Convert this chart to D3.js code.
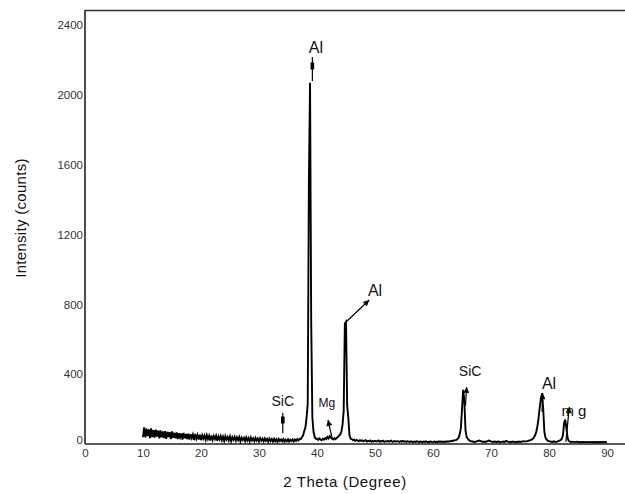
<!DOCTYPE html>
<html>
<head>
<meta charset="utf-8">
<script src="https://cdn.jsdelivr.net/npm/d3@7"></script>
<style>
  html, body { margin: 0; padding: 0; background: #fff; }
  svg { display: block; font-family: "Liberation Sans", Arial, sans-serif; }
</style>
</head>
<body>
<svg id="chart" width="625" height="494"></svg>
<script>
// ---- data ----
const scanStart = 10;      // degrees 2θ
const scanStep = 0.2;      // degrees 2θ
const counts = [
  40,96,38,88,45,84,34,90,40,80,
  36,82,42,76,32,78,38,72,34,74,
  30,70,40,68,28,72,36,64,32,66,
  28,62,38,60,26,63,33,57,28,59,
  25,56,34,54,23,57,30,52,26,53,
  22,50,31,48,24,51,28,47,20,49,
  24,45,28,47,19,43,26,46,22,42,
  18,44,25,40,21,43,17,39,24,41,
  19,38,22,40,16,36,23,35,17,38,
  20,34,15,37,21,32,16,35,19,31,
  14,33,20,30,15,32,18,29,13,31,
  17,28,14,30,16,27,12,29,17,26,
  15,28,13,25,16,27,14,24,17,26,
  15,25,18,28,20,30,28,38,50,75,
  95,150,230,1500,2070,690,150,70,40,30,
  30,24,32,26,22,30,25,34,28,40,
  32,45,36,30,26,33,28,35,40,48,
  55,70,110,190,690,700,220,150,50,30,
  28,22,25,18,24,20,16,22,18,21,
  15,19,22,14,18,16,20,13,17,15,
  18,14,16,20,13,17,15,19,12,16,
  14,18,13,16,19,12,15,17,13,16,
  15,12,17,14,18,13,15,12,16,14,
  12,15,13,11,14,12,15,13,11,14,
  13,11,14,12,15,11,13,12,14,12,
  11,14,12,13,11,15,12,14,13,12,
  14,12,15,13,16,14,18,17,20,22,
  22,28,35,55,90,200,310,250,80,40,
  30,22,18,15,14,13,12,14,16,18,
  20,17,14,13,12,14,13,16,20,18,
  15,13,12,14,13,12,14,13,11,12,
  13,14,12,18,15,12,11,13,12,14,
  12,11,13,12,14,12,13,14,16,15,
  15,16,18,20,22,25,30,38,50,70,
  100,150,210,260,290,200,70,35,25,18,
  16,14,13,12,15,13,12,14,16,20,
  22,30,50,120,140,90,35,18,14,12,
  13,12,11,12,13,11,12,10,12,11,
  12,10,11,12,10,11,12,10,11,10,
  11,10,12,10,11,10,11,10,12,10,
  10
];
const xTicks = [0, 10, 20, 30, 40, 50, 60, 70, 80, 90];
const yTicks = [0, 400, 800, 1200, 1600, 2000, 2400];
const xTitle = "2 Theta (Degree)";
const yTitle = "Intensity (counts)";

// phase labels (text, 2θ, counts)
const labelText  = ["Al", "Al", "SiC", "Mg", "SiC", "Al", "m g"];
const labelTheta = [39.8, 50.0, 34.1, 41.7, 66.4, 80.0, 84.3];
const labelCount = [2275, 882, 246, 235, 418, 350, 189];
const labelSize  = [16, 16, 14, 12, 14, 16, 15];

// pointer arrows (from -> to, in 2θ / counts), head type
const arrowFrom  = [[39.2, 2080], [45.0, 699], [34.1, 63], [42.6, 34], [65.6, 220], [78.8, 184], [82.9, 12]];
const arrowTo    = [[39.2, 2218], [49.0, 825], [34.1, 178], [41.9, 138], [65.8, 327], [78.9, 292], [83.5, 212]];
const arrowHead  = ["box", "tri", "box", "tri", "tri", "tri", "tri"];

// ---- drawing ----
const svg = d3.select("#chart");
const x = d3.scaleLinear().domain([0, 93.1]).range([85, 625]);
const y = d3.scaleLinear().domain([0, 2487]).range([444, 10]);

const scan = counts.map((c, i) => [scanStart + i * scanStep, c]);

svg.append("defs").append("marker")
  .attr("id", "tri")
  .attr("viewBox", "0 0 10 10")
  .attr("refX", 10).attr("refY", 5)
  .attr("markerWidth", 9).attr("markerHeight", 6)
  .attr("markerUnits", "userSpaceOnUse")
  .attr("orient", "auto")
  .append("path").attr("d", "M0,0 L10,5 L0,10 Z").attr("fill", "#000");

// x axis labels
const xa = svg.append("g").attr("transform", `translate(0,444)`)
  .call(d3.axisBottom(x).tickValues(xTicks).tickSize(0).tickPadding(5).tickFormat(d3.format("d")));
xa.select(".domain").remove();
xa.selectAll("text").attr("font-size", 11.5).attr("fill", "#333")
  .attr("font-family", "Liberation Sans, Arial, sans-serif");

const ya = svg.append("g").attr("transform", `translate(85,0)`)
  .call(d3.axisLeft(y).tickValues(yTicks).tickSize(0).tickPadding(2).tickFormat(d3.format("d")));
ya.select(".domain").remove();
ya.selectAll("text").attr("font-size", 11.5).attr("fill", "#333")
  .attr("font-family", "Liberation Sans, Arial, sans-serif");
ya.selectAll(".tick").filter(d => d === 0).select("text").attr("dy", "-0.05em");

// frame lines
svg.append("line").attr("x1", x(0)).attr("x2", 625).attr("y1", y(2487) + 0.5).attr("y2", y(2487) + 0.5)
  .attr("stroke", "#333").attr("stroke-width", 1.6);
svg.append("line").attr("x1", x(0)).attr("x2", x(0)).attr("y1", y(2487)).attr("y2", y(0))
  .attr("stroke", "#222").attr("stroke-width", 1.6);
svg.append("line").attr("x1", x(0)).attr("x2", 625).attr("y1", y(0)).attr("y2", y(0))
  .attr("stroke", "#222").attr("stroke-width", 1.6);

// scan line
svg.append("path")
  .datum(scan)
  .attr("fill", "none")
  .attr("stroke", "#000")
  .attr("stroke-width", 1.9)
  .attr("stroke-linejoin", "miter")
  .attr("d", d3.line().x(d => x(d[0])).y(d => y(d[1])));

// arrows
arrowFrom.forEach((f, i) => {
  const t = arrowTo[i];
  svg.append("line")
    .attr("x1", x(f[0])).attr("y1", y(f[1]))
    .attr("x2", x(t[0])).attr("y2", y(t[1]))
    .attr("stroke", "#000").attr("stroke-width", 1.2)
    .attr("marker-end", arrowHead[i] === "tri" ? "url(#tri)" : null);
  if (arrowHead[i] === "box") {
    const my = (y(f[1]) + y(t[1])) / 2 - 3;
    svg.append("rect")
      .attr("x", x(f[0]) - 1.8).attr("y", my - 3.5)
      .attr("width", 3.6).attr("height", 7).attr("fill", "#000");
  }
});

// labels
labelText.forEach((t, i) => {
  svg.append("text")
    .attr("x", x(labelTheta[i]))
    .attr("y", y(labelCount[i]))
    .attr("dy", "0.36em")
    .attr("text-anchor", "middle")
    .attr("font-size", labelSize[i])
    .attr("fill", "#111")
    .text(t);
});

// axis titles
svg.append("text")
  .attr("x", 345).attr("y", 487)
  .attr("text-anchor", "middle")
  .attr("font-size", 15).attr("letter-spacing", 0.6).attr("fill", "#111")
  .text(xTitle);
svg.append("text")
  .attr("transform", "translate(26,218) rotate(-90)")
  .attr("text-anchor", "middle")
  .attr("font-size", 15).attr("letter-spacing", 0.3).attr("fill", "#111")
  .text(yTitle);
</script>
</body>
</html>
